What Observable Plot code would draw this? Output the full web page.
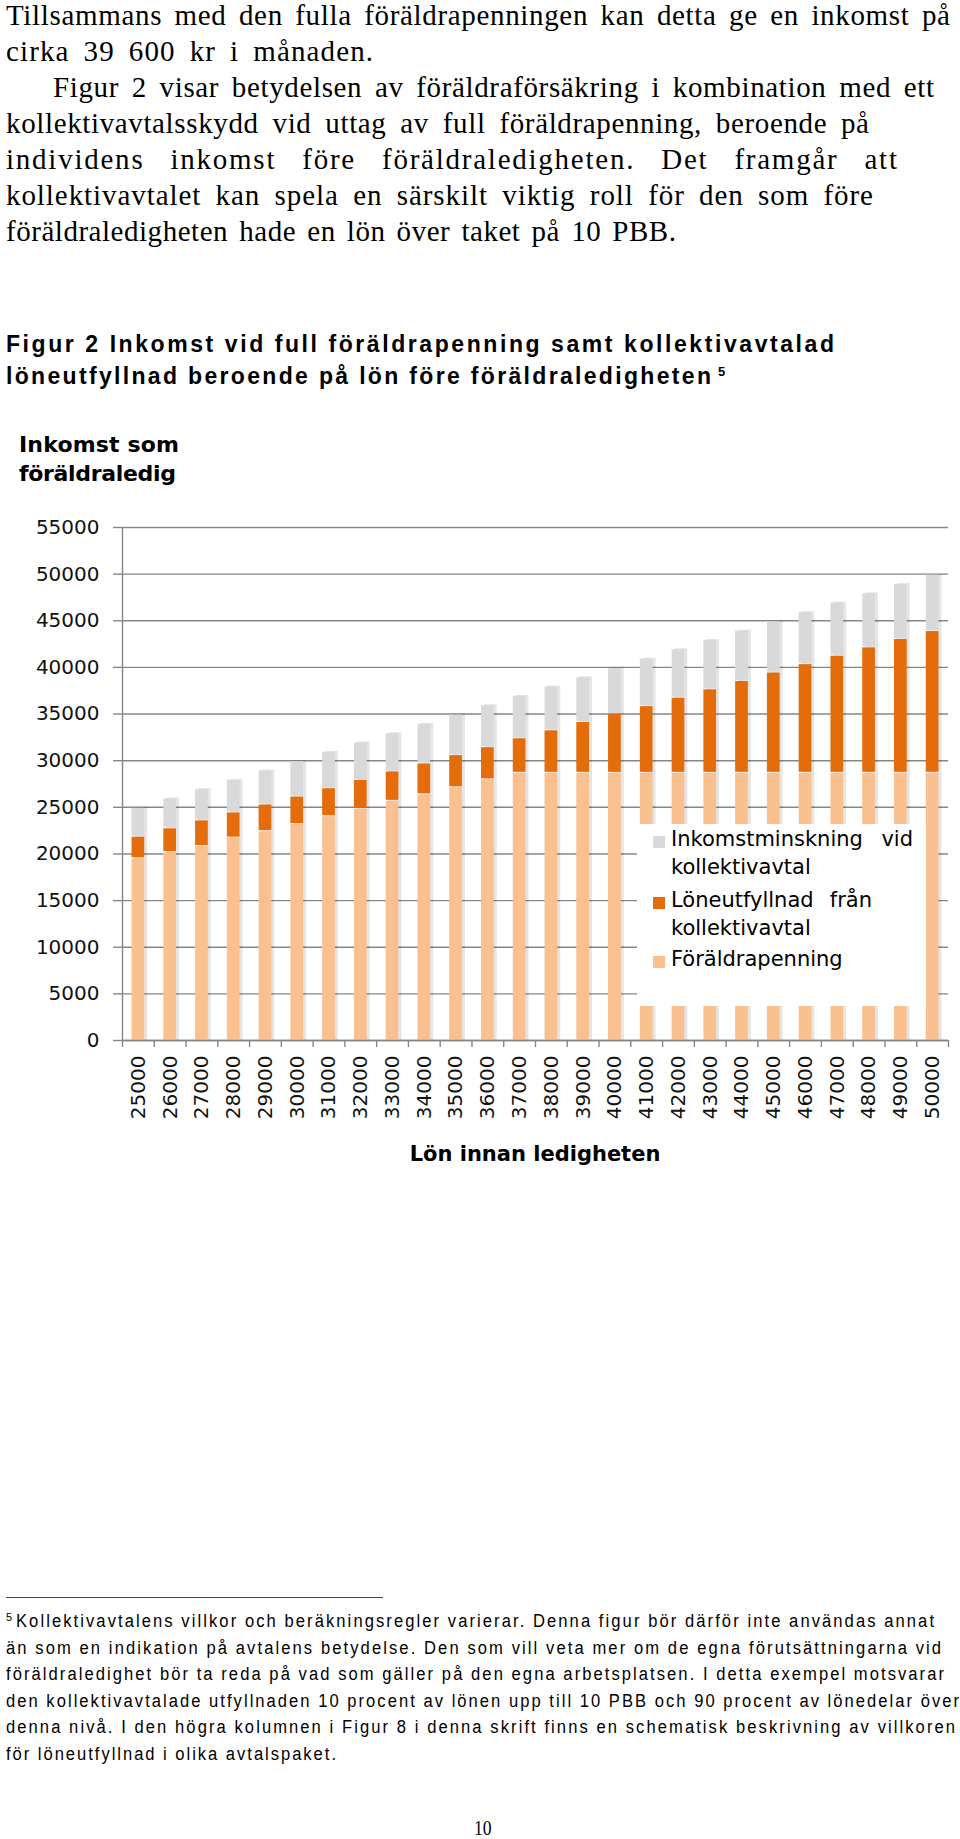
<!DOCTYPE html>
<html><head><meta charset="utf-8">
<script src="https://cdn.jsdelivr.net/npm/d3@7"></script>
<script src="https://cdn.jsdelivr.net/npm/@observablehq/plot@0.6"></script>
<style>
body{margin:0;background:#fff;}
#page{position:relative;width:960px;height:1839px;overflow:hidden;background:#fff;}
.t{position:absolute;white-space:nowrap;color:#000;}
#chart{position:absolute;left:0;top:500px;}
#legend{position:absolute;left:637px;top:824px;width:289px;height:182px;background:#fff;}
.sw{position:absolute;width:12px;height:12px;}
</style></head><body><div id="page"></div>
<script>
// ---- data ----
const lon = [25000,26000,27000,28000,29000,30000,31000,32000,33000,34000,35000,36000,37000,38000,39000,40000,41000,42000,43000,44000,45000,46000,47000,48000,49000,50000];
const foraldrapenning = [19600,20250,20900,21800,22500,23250,24100,24900,25750,26450,27200,28050,28750,28750,28750,28750,28750,28750,28750,28750,28750,28750,28750,28750,28750,28750];
const loneutfyllnad = [2300,2550,2750,2700,2850,2950,3000,3100,3150,3300,3450,3450,3700,4550,5450,6300,7150,8050,8950,9850,10750,11650,12550,13450,14350,15200];
const inkomstminskning = [3100,3200,3350,3500,3650,3800,3900,4000,4100,4250,4350,4500,4550,4700,4800,4950,5100,5200,5300,5400,5500,5600,5700,5800,5900,6050];
const serier = ["Föräldrapenning","Löneutfyllnad från kollektivavtal","Inkomstminskning vid kollektivavtal"];
const farger = ["#FAC090","#E46C0A","#D9D9D9"];
const yTicks = [0,5000,10000,15000,20000,25000,30000,35000,40000,45000,50000,55000];

const rows = lon.flatMap((l, i) => [
  {lon: l, serie: serier[0], value: foraldrapenning[i]},
  {lon: l, serie: serier[1], value: loneutfyllnad[i]},
  {lon: l, serie: serier[2], value: inkomstminskning[i]}
]);

const page = document.getElementById("page");

// ---- text helper ----
const FONTS = {
  serif: {family: '"Liberation Serif","Times New Roman",serif', k: 0.891, c: 1.107},
  sans: {family: '"Liberation Sans",Arial,sans-serif', k: 0.905, c: 1.117},
  dejavu: {family: '"DejaVu Sans",Verdana,sans-serif', k: 0.928, c: 1.164}
};
function put(parent, text, o) {
  const f = FONTS[o.font];
  const el = document.createElement("div");
  el.className = "t";
  el.style.fontFamily = f.family;
  el.style.fontSize = o.size + "px";
  el.style.fontWeight = o.weight || 400;
  const lh = o.size * 0.85;
  el.style.lineHeight = lh + "px";
  el.style.top = (o.base - ((lh - f.c * o.size) / 2 + f.k * o.size)) + "px";
  el.style.left = o.x + "px";
  el.textContent = text;
  parent.appendChild(el);
  const w0 = el.getBoundingClientRect().width;
  const s = o.scale || 1;
  if (o.width) {
    const extra = o.width / s - w0;
    const mode = o.mode || "letter";
    const nl = Math.max(1, text.length - 1);
    const nw = (text.match(/ /g) || []).length;
    if (mode === "letter" || !nw) {
      el.style.letterSpacing = (extra / nl) + "px";
    } else if (mode === "word") {
      el.style.wordSpacing = (extra / nw) + "px";
    } else if (mode === "mix") {
      el.style.letterSpacing = (extra * 0.5 / nl) + "px";
      el.style.wordSpacing = (extra * 0.5 / nw) + "px";
    }
  }
  if (s !== 1) {
    el.style.transformOrigin = "0 0";
    el.style.transform = `scaleX(${s})`;
  }
  if (o.anchor === "middle") {
    el.style.left = (o.x - w0 * s / 2) + "px";
  }
  return el;
}

// ---- paragraph ----
const para = [
  ["Tillsammans med den fulla föräldrapenningen kan detta ge en inkomst på", 6, 944],
  ["cirka 39 600 kr i månaden.", 6, 367],
  ["Figur 2 visar betydelsen av föräldraförsäkring i kombination med ett", 53, 881],
  ["kollektivavtalsskydd vid uttag av full föräldrapenning, beroende på", 6, 863],
  ["individens inkomst före föräldraledigheten. Det framgår att", 6, 891],
  ["kollektivavtalet kan spela en särskilt viktig roll för den som före", 6, 867],
  ["föräldraledigheten hade en lön över taket på 10 PBB.", 6, 670]
];
para.forEach(([t, x, w], i) => put(page, t, {x, base: 25 + i * 36, font: "serif", size: 29, width: w, mode: "mix"}));

// ---- figure heading ----
put(page, "Figur 2 Inkomst vid full föräldrapenning samt kollektivavtalad", {x: 6, base: 353, font: "sans", size: 23, weight: 700, width: 828});
put(page, "löneutfyllnad beroende på lön före föräldraledigheten", {x: 6, base: 385, font: "sans", size: 23, weight: 700, width: 705});
put(page, "5", {x: 718, base: 376, font: "sans", size: 13, weight: 700});

// ---- chart title ----
put(page, "Inkomst som", {x: 19, base: 453, font: "dejavu", size: 22, weight: 700, width: 160});
put(page, "föräldraledig", {x: 19, base: 482, font: "dejavu", size: 22, weight: 700, width: 157});

// ---- chart ----
const step = (960 - 12 - 122) / lon.length;
const grid = "#868686";
const chart = Plot.plot({
  width: 960, height: 680,
  marginLeft: 122, marginRight: 12, marginTop: 27, marginBottom: 140,
  style: {fontFamily: '"DejaVu Sans", Verdana, sans-serif', fontSize: "20px", color: "#000", background: "transparent", overflow: "visible"},
  x: {type: "band", domain: lon, paddingInner: 0.6, paddingOuter: 0.3, round: false},
  y: {domain: [0, 55000]},
  color: {domain: serier, range: farger},
  marks: [
    Plot.gridY(yTicks, {stroke: grid, strokeOpacity: 1, strokeWidth: 1.4}),
    Plot.axisY(yTicks, {tickSize: 9, tickPadding: 14, stroke: grid, strokeWidth: 1.4, tickFormat: d => String(d), label: null, fontSize: 20, fill: "#111"}),
    Plot.barY(rows, {x: "lon", y: "value", fill: "#000", fillOpacity: 0.1, dx: 3}),
    Plot.barY(rows, {x: "lon", y: "value", fill: "serie", order: serier, insetTop: 1}),
    Plot.ruleY([0], {stroke: grid, strokeWidth: 1.4}),
    Plot.ruleX([lon[0]], {y1: 0, y2: 55000, dx: -step / 2, stroke: grid, strokeWidth: 1.4}),
    Plot.axisX(lon, {tickSize: 7, tickFormat: () => "", dx: -step / 2, stroke: grid, strokeWidth: 1.4, label: null}),
    Plot.axisX([lon[lon.length - 1]], {tickSize: 7, tickFormat: () => "", dx: step / 2, stroke: grid, strokeWidth: 1.4, label: null}),
    Plot.axisX(lon, {tickSize: 0, tickPadding: 15, tickRotate: -90, tickFormat: d => String(d), label: null, fontSize: 20, fill: "#111"})
  ]
});
chart.id = "chart";
page.appendChild(chart);

// ---- x axis title ----
put(page, "Lön innan ledigheten", {x: 535, base: 1162, font: "dejavu", size: 21, weight: 700, anchor: "middle"});

// ---- legend ----
const lg = document.createElement("div");
lg.id = "legend";
page.appendChild(lg);
[[serier[2], 836], [serier[1], 897], [serier[0], 955.5]].forEach(([s, top]) => {
  const d = document.createElement("div");
  d.className = "sw";
  d.style.left = "653px"; d.style.top = top + "px";
  d.style.background = farger[serier.indexOf(s)];
  page.appendChild(d);
});
const L = (t, base, w) => put(page, t, {x: 671, base, font: "dejavu", size: 21, width: w, mode: "word"});
L("Inkomstminskning vid", 847, 242);
L("kollektivavtal", 875);
L("Löneutfyllnad från", 908, 201);
L("kollektivavtal", 936);
L("Föräldrapenning", 967);

// ---- footnote ----
const sep = document.createElement("div");
sep.style.cssText = "position:absolute;left:6px;top:1597px;width:377px;height:1px;background:#444;";
page.appendChild(sep);
put(page, "5", {x: 6, base: 1621, font: "sans", size: 11});
const fn = [
  ["Kollektivavtalens villkor och beräkningsregler varierar. Denna figur bör därför inte användas annat", 16, 918],
  ["än som en indikation på avtalens betydelse. Den som vill veta mer om de egna förutsättningarna vid", 6, 935],
  ["föräldraledighet bör ta reda på vad som gäller på den egna arbetsplatsen. I detta exempel motsvarar", 6, 938],
  ["den kollektivavtalade utfyllnaden 10 procent av lönen upp till 10 PBB och 90 procent av lönedelar över", 6, 953],
  ["denna nivå. I den högra kolumnen i Figur 8 i denna skrift finns en schematisk beskrivning av villkoren", 6, 949],
  ["för löneutfyllnad i olika avtalspaket.", 6, 330]
];
fn.forEach(([t, x, w], i) => put(page, t, {x, base: 1628 + i * 26.5, font: "sans", size: 18, scale: 0.92, width: w}));

// ---- page number ----
put(page, "10", {x: 483, base: 1836, font: "serif", size: 22, anchor: "middle", scale: 0.8});
</script>
</body></html>
